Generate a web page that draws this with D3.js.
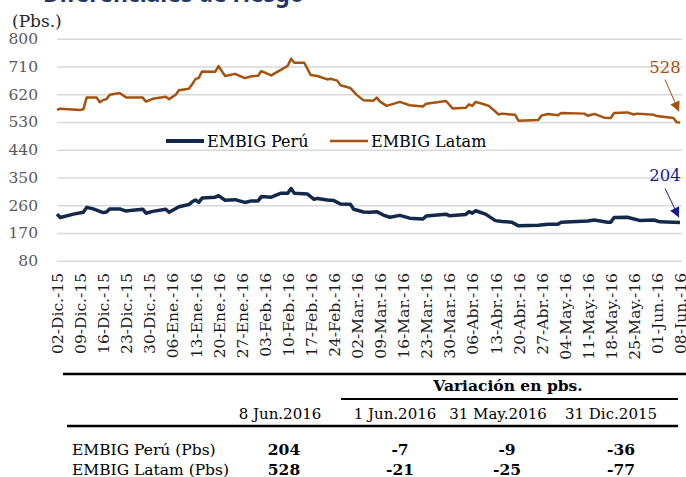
<!DOCTYPE html>
<html>
<head>
<meta charset="utf-8">
<script src="https://cdnjs.cloudflare.com/ajax/libs/d3/7.8.5/d3.min.js"></script>
<style>
  body { margin: 0; background: #fff; }
  svg { display: block; font-family: "DejaVu Serif", serif; }
</style>
</head>
<body>
<div id="chart"></div>
<script>
// data
var seriesNames = ["EMBIG Perú", "EMBIG Latam"];

var peru = [["2015-12-02",231],["2015-12-03",220],["2015-12-07",231],["2015-12-10",237],["2015-12-11",253],
  ["2015-12-13",248],["2015-12-16",236],["2015-12-17",238],["2015-12-18",248],["2015-12-21",248],
  ["2015-12-23",241],["2015-12-25",244],["2015-12-28",247],["2015-12-29",234],["2015-12-31",240],
  ["2016-01-04",247],["2016-01-05",237],["2016-01-08",255],["2016-01-11",262],["2016-01-12",271],
  ["2016-01-13",277],["2016-01-14",269],["2016-01-15",283],["2016-01-19",286],["2016-01-20",291],
  ["2016-01-22",276],["2016-01-25",278],["2016-01-28",269],["2016-01-30",274],["2016-02-01",274],
  ["2016-02-02",288],["2016-02-05",286],["2016-02-08",299],["2016-02-10",299],["2016-02-11",314],
  ["2016-02-12",299],["2016-02-16",296],["2016-02-18",279],["2016-02-19",282],["2016-02-22",277],
  ["2016-02-24",275],["2016-02-26",264],["2016-02-29",263],["2016-03-01",247],["2016-03-04",238],
  ["2016-03-06",237],["2016-03-08",239],["2016-03-10",228],["2016-03-12",221],["2016-03-15",227],
  ["2016-03-18",218],["2016-03-22",215],["2016-03-23",225],["2016-03-29",231],["2016-03-30",226],
  ["2016-04-04",230],["2016-04-05",239],["2016-04-06",234],["2016-04-07",242],["2016-04-10",231],
  ["2016-04-13",210],["2016-04-15",207],["2016-04-18",205],["2016-04-20",193],["2016-04-26",195],
  ["2016-04-29",198],["2016-05-02",198],["2016-05-03",205],["2016-05-11",209],["2016-05-13",212],
  ["2016-05-17",205],["2016-05-18",205],["2016-05-19",220],["2016-05-23",221],["2016-05-27",210],
  ["2016-05-31",212],["2016-06-02",206],["2016-06-08",204]];

var latam = [["2015-12-02",569],["2015-12-03",573],["2015-12-09",569],["2015-12-10",571],["2015-12-11",609],
  ["2015-12-14",609],["2015-12-15",594],["2015-12-16",601],["2015-12-17",604],["2015-12-18",618],
  ["2015-12-21",624],["2015-12-23",609],["2015-12-28",609],["2015-12-29",596],["2015-12-31",605],
  ["2016-01-03",610],["2016-01-04",612],["2016-01-05",604],["2016-01-07",618],["2016-01-08",633],
  ["2016-01-11",638],["2016-01-12",652],["2016-01-13",669],["2016-01-14",673],["2016-01-15",694],
  ["2016-01-19",693],["2016-01-20",711],["2016-01-22",679],["2016-01-25",686],["2016-01-28",672],
  ["2016-01-30",678],["2016-02-01",680],["2016-02-02",695],["2016-02-05",681],["2016-02-10",712],
  ["2016-02-11",735],["2016-02-12",722],["2016-02-15",722],["2016-02-17",682],["2016-02-19",679],
  ["2016-02-22",668],["2016-02-23",670],["2016-02-25",664],["2016-02-26",649],["2016-02-29",640],
  ["2016-03-02",617],["2016-03-04",600],["2016-03-07",599],["2016-03-08",609],["2016-03-09",596],
  ["2016-03-11",582],["2016-03-15",595],["2016-03-18",584],["2016-03-22",580],["2016-03-23",589],
  ["2016-03-29",598],["2016-03-31",574],["2016-04-04",576],["2016-04-05",587],["2016-04-06",582],
  ["2016-04-07",595],["2016-04-09",589],["2016-04-11",582],["2016-04-14",554],["2016-04-15",557],
  ["2016-04-19",553],["2016-04-20",534],["2016-04-26",536],["2016-04-27",551],["2016-04-29",556],
  ["2016-05-02",552],["2016-05-03",559],["2016-05-10",557],["2016-05-11",550],["2016-05-13",556],
  ["2016-05-16",544],["2016-05-18",543],["2016-05-19",559],["2016-05-23",561],["2016-05-25",554],
  ["2016-05-26",557],["2016-05-31",553],["2016-06-01",549],["2016-06-06",543],["2016-06-07",529],
  ["2016-06-08",528]];

var yTicks = [80, 170, 260, 350, 440, 530, 620, 710, 800];
var xTickLabels = ["02-Dic.-15","09-Dic.-15","16-Dic.-15","23-Dic.-15","30-Dic.-15",
  "06-Ene.-16","13-Ene.-16","20-Ene.-16","27-Ene.-16","03-Feb.-16","10-Feb.-16","17-Feb.-16",
  "24-Feb.-16","02-Mar.-16","09-Mar.-16","16-Mar.-16","23-Mar.-16","30-Mar.-16","06-Abr.-16",
  "13-Abr.-16","20-Abr.-16","27-Abr.-16","04-May.-16","11-May.-16","18-May.-16","25-May.-16",
  "01-Jun.-16","08-Jun.-16"];

var tableTitle = "Variación en pbs.";
var tableHeader = ["8 Jun.2016", "1 Jun.2016", "31 May.2016", "31 Dic.2015"];
var tableRows = ["EMBIG Perú (Pbs)", "EMBIG Latam (Pbs)"];
var tableValues = [[204, -7, -9, -36], [528, -21, -25, -77]];

var svgWidth = 686, svgHeight = 477;
var colPeru = "#14294a", colLatam = "#a5520f";

var svg = d3.select("#chart").append("svg")
  .attr("width", svgWidth)
  .attr("height", svgHeight);

var parse = d3.timeParse("%Y-%m-%d");
var start = parse("2015-12-02"), end = parse("2016-06-08");

var x = d3.scaleTime().domain([start, end]).range([57, 680]);
var y = d3.scaleLinear().domain([80, 800]).range([260.7, 38.7]);

// title (cut at top in the original)
svg.append("text")
  .attr("x", 43).attr("y", 2)
  .style("font-family", "'Noto Sans', sans-serif")
  .style("font-weight", "bold")
  .style("font-size", "23px")
  .attr("fill", "#1f3864")
  .text("Diferenciales de riesgo");

svg.append("text")
  .attr("x", 12).attr("y", 27)
  .style("font-size", "17px")
  .attr("fill", "#262626")
  .text("(Pbs.)");

// gridlines + y labels
var yAxis = svg.append("g")
  .attr("transform", "translate(57,0)")
  .call(d3.axisLeft(y).tickValues(yTicks).tickSize(-625).tickPadding(19));
yAxis.select(".domain").remove();
yAxis.selectAll(".tick line").attr("stroke", "#d9d9d9").attr("stroke-width", 1.5);
yAxis.selectAll(".tick text")
  .style("font-family", "'DejaVu Serif', serif")
  .style("font-size", "15.5px")
  .attr("fill", "#595959");

// x labels, weekly
var tickDates = xTickLabels.map(function(d, i) { return d3.timeWeek.offset(start, i); });
var xAxis = svg.append("g")
  .attr("transform", "translate(0,270)")
  .call(d3.axisBottom(x).tickValues(tickDates)
    .tickFormat(function(d, i) { return xTickLabels[i]; }).tickSize(0));
xAxis.select(".domain").remove();
xAxis.selectAll(".tick text")
  .attr("transform", "rotate(-90)")
  .attr("text-anchor", "end")
  .attr("x", -3).attr("y", 0).attr("dy", "0.36em")
  .style("font-family", "'DejaVu Serif', serif")
  .style("font-size", "15.5px")
  .attr("fill", "#1a1a1a");

// lines
var line = d3.line()
  .x(function(d) { return x(parse(d[0])); })
  .y(function(d) { return y(d[1]); });

svg.append("path").datum(latam)
  .attr("d", line).attr("fill", "none")
  .attr("stroke", colLatam).attr("stroke-width", 2.5)
  .attr("stroke-linejoin", "round");

svg.append("path").datum(peru)
  .attr("d", line).attr("fill", "none")
  .attr("stroke", colPeru).attr("stroke-width", 3.5)
  .attr("stroke-linejoin", "round");

// legend
var legend = [
  { name: seriesNames[0], color: colPeru, w: 4, x: 166 },
  { name: seriesNames[1], color: colLatam, w: 2.5, x: 330 }
];
legend.forEach(function(l) {
  svg.append("line")
    .attr("x1", l.x).attr("x2", l.x + 38)
    .attr("y1", 141).attr("y2", 141)
    .attr("stroke", l.color).attr("stroke-width", l.w);
  svg.append("text")
    .attr("x", l.x + 41).attr("y", 147)
    .style("font-size", "16px")
    .attr("fill", "#000")
    .text(l.name);
});

// end annotations with arrows
var defs = svg.append("defs");
[["arrLatam", colLatam], ["arrPeru", "#1a1a8c"]].forEach(function(m) {
  defs.append("marker")
    .attr("id", m[0])
    .attr("viewBox", "0 0 10 10")
    .attr("refX", 10).attr("refY", 5)
    .attr("markerWidth", 11).attr("markerHeight", 10)
    .attr("markerUnits", "userSpaceOnUse")
    .attr("orient", "auto")
    .append("path").attr("d", "M0,0L10,5L0,10Z").attr("fill", m[1]);
});

var lastLatam = latam[latam.length - 1], lastPeru = peru[peru.length - 1];
var annots = [
  { d: lastLatam, color: colLatam, marker: "arrLatam", dy0: -43, dy1: -11, dx0: -15, ty: -50 },
  { d: lastPeru, color: "#1a1a8c", marker: "arrPeru", dy0: -34, dy1: -5, dx0: -15, ty: -41 }
];
annots.forEach(function(a) {
  var px = x(parse(a.d[0])), py = y(a.d[1]);
  svg.append("line")
    .attr("x1", px + a.dx0).attr("y1", py + a.dy0)
    .attr("x2", px - 1).attr("y2", py + a.dy1)
    .attr("stroke", a.color).attr("stroke-width", 1)
    .attr("marker-end", "url(#" + a.marker + ")");
  svg.append("text")
    .attr("x", px - 15).attr("y", py + a.ty)
    .attr("text-anchor", "middle")
    .style("font-size", "16.5px")
    .attr("fill", a.color)
    .text(a.d[1]);
});

// table
var tbl = svg.append("g")
  .style("font-family", "'DejaVu Serif', serif")
  .style("font-size", "15.5px").attr("fill", "#000");
var colX = [280, 395, 498, 611];
var valX = [284, 400, 507, 621];

tbl.append("line").attr("x1", 63).attr("x2", 686).attr("y1", 374).attr("y2", 374)
  .attr("stroke", "#000").attr("stroke-width", 2.5);
tbl.append("text").attr("x", 508).attr("y", 391).attr("text-anchor", "middle")
  .style("font-weight", "bold").style("font-size", "15.5px").text(tableTitle);
tbl.append("line").attr("x1", 341).attr("x2", 678).attr("y1", 399).attr("y2", 399)
  .attr("stroke", "#000").attr("stroke-width", 2);
tableHeader.forEach(function(h, i) {
  tbl.append("text").attr("x", colX[i]).attr("y", 419).attr("text-anchor", "middle")
    .style("font-size", "15px").text(h);
});
tbl.append("line").attr("x1", 67).attr("x2", 678).attr("y1", 426).attr("y2", 426)
  .attr("stroke", "#000").attr("stroke-width", 2.5);
tableRows.forEach(function(r, j) {
  var ty = 455 + j * 20;
  tbl.append("text").attr("x", 72).attr("y", ty).text(r);
  tableValues[j].forEach(function(v, i) {
    tbl.append("text").attr("x", valX[i]).attr("y", ty)
      .attr("text-anchor", "middle").style("font-weight", "bold").text(v);
  });
});
</script>
</body>
</html>
